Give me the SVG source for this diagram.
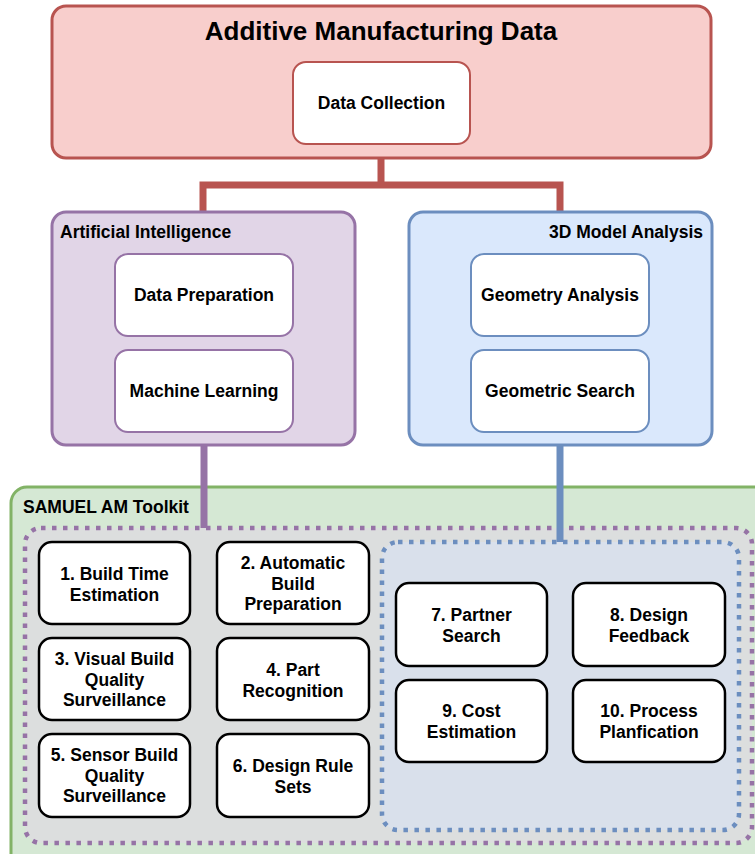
<svg xmlns="http://www.w3.org/2000/svg" width="755" height="854" viewBox="0 0 755 854">
  <style>
    text { font-family: "Liberation Sans", Arial, sans-serif; font-weight: bold; fill: #000; }
    .t { font-size: 17.5px; text-anchor: middle; }
    .lbl { font-size: 17.5px; }
    .title { font-size: 26px; text-anchor: middle; }
    .mod { fill: #ffffff; stroke: #000000; stroke-width: 2.5; }
    .red { fill: #f8cecc; stroke: #b85450; stroke-width: 3; }
    .purple { fill: #e1d5e7; stroke: #9673a6; stroke-width: 3; }
    .blue { fill: #dae8fc; stroke: #6c8ebf; stroke-width: 3; }
    .in-red { fill: #ffffff; stroke: #b85450; stroke-width: 2; }
    .in-purple { fill: #ffffff; stroke: #9673a6; stroke-width: 2; }
    .in-blue { fill: #ffffff; stroke: #6c8ebf; stroke-width: 2; }
    .dot { stroke-width: 4.5; stroke-dasharray: 4.5 6.5; }
  </style>

  <!-- toolkit container (drawn first, sits under the connectors) -->
  <g id="samuel-toolkit">
    <rect x="11" y="487" width="760" height="390" rx="16" fill="#d5e8d4" stroke="#82b366" stroke-width="3"/>
    <text class="lbl" x="23" y="513">SAMUEL AM Toolkit</text>
  </g>

  <g id="ai-group-area">
    <rect class="dot" x="25" y="528" width="727" height="315" rx="16" fill="#dcdede" stroke="#9673a6"/>
  </g>

  <g id="model-group-area">
    <rect class="dot" x="382" y="542" width="357" height="288" rx="16" fill="#d9e0eb" stroke="#6c8ebf"/>
  </g>

  <!-- connectors -->
  <g id="connectors" fill="none">
    <path d="M203 212 V185 H560 V212 M381 158 V185" stroke="#b85450" stroke-width="7"/>
    <path d="M204 445 V528" stroke="#9673a6" stroke-width="7"/>
    <path d="M560 445 V542" stroke="#6c8ebf" stroke-width="7"/>
  </g>

  <g id="am-data">
    <rect class="red" x="52" y="6" width="659" height="152" rx="14"/>
    <text class="title" x="381" y="40">Additive Manufacturing Data</text>
  </g>
  <g id="data-collection">
    <rect class="in-red" x="293" y="62" width="177" height="82" rx="13"/>
    <text class="t" x="381.5" y="109">Data Collection</text>
  </g>

  <g id="artificial-intelligence">
    <rect class="purple" x="52" y="212" width="303" height="233" rx="14"/>
    <text class="lbl" x="60" y="238">Artificial Intelligence</text>
  </g>
  <g id="data-preparation">
    <rect class="in-purple" x="115" y="254" width="178" height="82" rx="13"/>
    <text class="t" x="204" y="301">Data Preparation</text>
  </g>
  <g id="machine-learning">
    <rect class="in-purple" x="115" y="350" width="178" height="82" rx="13"/>
    <text class="t" x="204" y="397">Machine Learning</text>
  </g>

  <g id="model-analysis">
    <rect class="blue" x="409" y="212" width="303" height="233" rx="14"/>
    <text class="lbl" x="703" y="238" text-anchor="end">3D Model Analysis</text>
  </g>
  <g id="geometry-analysis">
    <rect class="in-blue" x="471" y="254" width="178" height="82" rx="13"/>
    <text class="t" x="560" y="301">Geometry Analysis</text>
  </g>
  <g id="geometric-search">
    <rect class="in-blue" x="471" y="350" width="178" height="82" rx="13"/>
    <text class="t" x="560" y="397">Geometric Search</text>
  </g>

  <!-- toolkit modules -->
  <g id="m1">
    <rect class="mod" x="39" y="542" width="151" height="82" rx="13"/>
    <text class="t" x="114.5" y="580">1. Build Time</text>
    <text class="t" x="114.5" y="600.5">Estimation</text>
  </g>
  <g id="m2">
    <rect class="mod" x="217" y="542" width="152" height="82" rx="13"/>
    <text class="t" x="293" y="569">2. Automatic</text>
    <text class="t" x="293" y="589.5">Build</text>
    <text class="t" x="293" y="610">Preparation</text>
  </g>
  <g id="m3">
    <rect class="mod" x="39" y="638" width="151" height="82" rx="13"/>
    <text class="t" x="114.5" y="665">3. Visual Build</text>
    <text class="t" x="114.5" y="685.5">Quality</text>
    <text class="t" x="114.5" y="706">Surveillance</text>
  </g>
  <g id="m4">
    <rect class="mod" x="217" y="638" width="152" height="82" rx="13"/>
    <text class="t" x="293" y="676">4. Part</text>
    <text class="t" x="293" y="696.5">Recognition</text>
  </g>
  <g id="m5">
    <rect class="mod" x="39" y="734" width="151" height="83" rx="13"/>
    <text class="t" x="114.5" y="761">5. Sensor Build</text>
    <text class="t" x="114.5" y="781.5">Quality</text>
    <text class="t" x="114.5" y="802">Surveillance</text>
  </g>
  <g id="m6">
    <rect class="mod" x="217" y="734" width="152" height="83" rx="13"/>
    <text class="t" x="293" y="772">6. Design Rule</text>
    <text class="t" x="293" y="792.5">Sets</text>
  </g>
  <g id="m7">
    <rect class="mod" x="396" y="583" width="151" height="83" rx="13"/>
    <text class="t" x="471.5" y="621">7. Partner</text>
    <text class="t" x="471.5" y="641.5">Search</text>
  </g>
  <g id="m8">
    <rect class="mod" x="573" y="583" width="152" height="83" rx="13"/>
    <text class="t" x="649" y="621">8. Design</text>
    <text class="t" x="649" y="641.5">Feedback</text>
  </g>
  <g id="m9">
    <rect class="mod" x="396" y="680" width="151" height="82" rx="13"/>
    <text class="t" x="471.5" y="717">9. Cost</text>
    <text class="t" x="471.5" y="737.5">Estimation</text>
  </g>
  <g id="m10">
    <rect class="mod" x="573" y="680" width="152" height="82" rx="13"/>
    <text class="t" x="649" y="717">10. Process</text>
    <text class="t" x="649" y="737.5">Planfication</text>
  </g>
</svg>
